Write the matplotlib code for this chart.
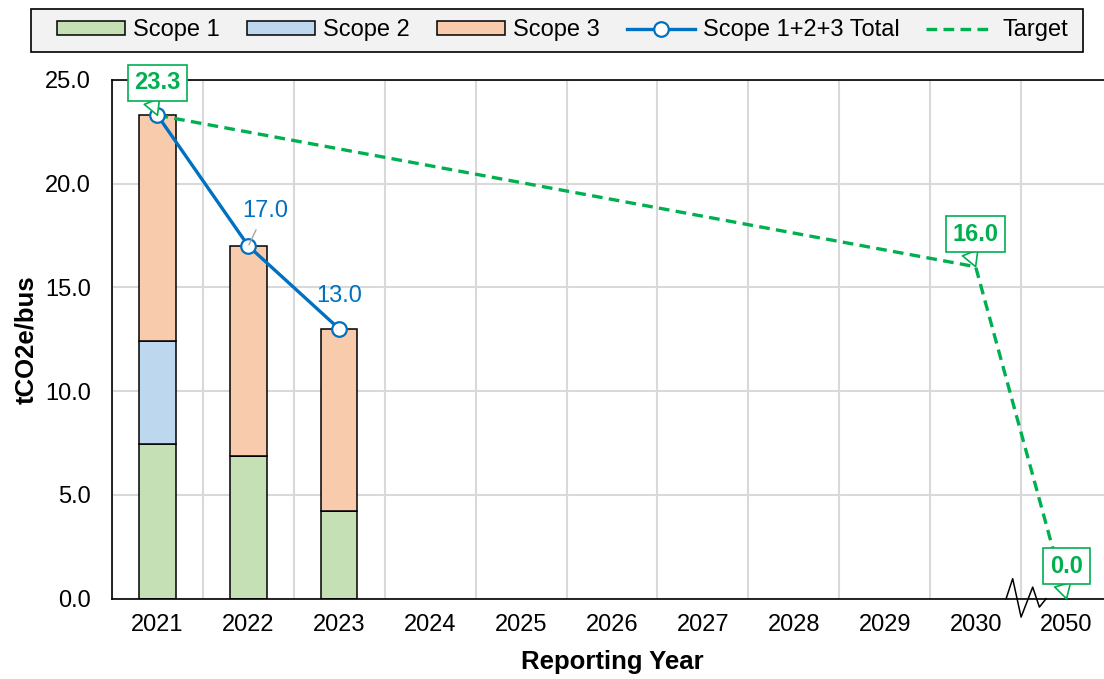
import numpy as np
import matplotlib.pyplot as plt
from matplotlib.patches import Rectangle
from matplotlib.transforms import ScaledTranslation

plt.rcParams['font.family'] = ['Liberation Sans', 'DejaVu Sans']

years = ['2021', '2022', '2023', '2024', '2025', '2026', '2027', '2028',
         '2029', '2030', '2050']
bar_years = ['2021', '2022', '2023']
scope1 = [7.45, 6.89, 4.23]
scope2 = [4.95, 0.0, 0.0]
scope3 = [10.9, 10.11, 8.77]
total = [23.3, 17.0, 13.0]
target_years = ['2021', '2030', '2050']
target = [23.3, 16.0, 0.0]

pos = {y: i for i, y in enumerate(years)}
x = np.arange(len(years))
bx = [pos[y] for y in bar_years]
tx = [pos[y] for y in target_years]

fig = plt.figure(figsize=(11.04, 6.79), dpi=100)
ax = fig.add_axes([112 / 1104, 1 - 598.7 / 679, 1000 / 1104, 518.7 / 679])

fs = 17
green, blue = '#00B050', '#0070C0'

b1 = ax.bar(bx, scope1, 0.4, color='#C5E0B4', edgecolor='black', lw=1.1,
            label='Scope 1', zorder=2)
b2 = ax.bar(bx, scope2, 0.4, bottom=scope1, color='#BDD7EE', edgecolor='black',
            lw=1.1, label='Scope 2', zorder=2)
bottom3 = np.array(scope1) + np.array(scope2)
b3 = ax.bar(bx, scope3, 0.4, bottom=bottom3, color='#F8CBAD', edgecolor='black',
            lw=1.1, label='Scope 3', zorder=2)

l_tgt, = ax.plot(tx, target, color=green, lw=2.4, ls=(0, (3.2, 1.9)),
                 label='Target', zorder=3)
l_tot, = ax.plot(bx, total, color=blue, lw=2.4, marker='o', ms=10.5, mfc='white',
                 mec=blue, mew=1.6, label='Scope 1+2+3 Total', zorder=4)

# target labels (callout boxes)
for xi, v in zip(tx, target):
    ax.annotate(f'{v:.1f}', (xi, v), xytext=(0, 23.5), textcoords='offset points',
                ha='center', va='center', fontsize=fs, fontweight='bold',
                color=green, zorder=6, annotation_clip=False,
                bbox=dict(boxstyle='square,pad=0.28', fc='white', ec=green, lw=1.2),
                arrowprops=dict(arrowstyle='wedge,tail_width=0.7', fc='white',
                                ec=green, lw=1.2, shrinkA=0, shrinkB=0,
                                relpos=(0.3, 0.1)))

# total labels
ax.annotate(f'{total[1]:.1f}', (bx[1], total[1]), xytext=(12, 25.2),
            textcoords='offset points', ha='center', va='center', fontsize=fs,
            color=blue, zorder=5,
            arrowprops=dict(arrowstyle='-', color='#a6a6a6', lw=1,
                            shrinkA=4, shrinkB=1))
ax.annotate(f'{total[2]:.1f}', (bx[2], total[2]), xytext=(0, 23.8),
            textcoords='offset points', ha='center', va='center', fontsize=fs,
            color=blue, zorder=5)

ax.set_xlim(-0.5, 10.5)
ax.set_ylim(0, 25)
ax.set_xticks(x, years)
ax.set_xticks(np.arange(-0.5, 11, 1), minor=True)
ax.set_yticks(np.arange(0, 26, 5))
ax.yaxis.set_major_formatter(lambda v, p: f'{v:.1f}')
ax.tick_params(which='both', length=0, labelsize=fs)
ax.tick_params(axis='y', pad=15)
ax.tick_params(axis='x', pad=11)
ax.grid(which='minor', axis='x', color='#D9D9D9', lw=1.5, zorder=0)
ax.grid(which='major', axis='y', color='#D9D9D9', lw=1.5, zorder=0)
ax.set_axisbelow(True)
for s in ax.spines.values():
    s.set_linewidth(1.2)
    s.set_color('black')

ax.set_ylabel('tCO2e/bus', fontsize=18.5, fontweight='bold')
ax.yaxis.set_label_coords(-0.074, 0.5)
ax.set_xlabel('Reporting Year', fontsize=18.5, fontweight='bold')
ax.xaxis.set_label_coords(0.5, -0.099)

# axis break between 2030 and 2050
brk = ScaledTranslation(9.5, 0, ax.transData)
zx = np.array([-15, -8.4, 0, 11.6, 18.3, 25]) / 100
zy = np.array([0, 20, -18.4, 11.6, -8.4, 0]) / 100
ax.plot(zx, zy, color='black', lw=1.1, transform=fig.dpi_scale_trans + brk,
        clip_on=False, zorder=5)

# legend with its own frame
fig.add_artist(Rectangle((31 / 1104, 1 - 51.7 / 679), 1052 / 1104, 42.7 / 679,
                         transform=fig.transFigure, fc='#F2F2F2', ec='black',
                         lw=1.2, zorder=1))
fig.legend(handles=[b1, b2, b3, l_tot, l_tgt], loc='center',
           bbox_to_anchor=(562.5 / 1104, 1 - 30.4 / 679), ncol=5,
           frameon=False, fontsize=fs,
           handlelength=2.88, handleheight=0.5, handletextpad=0.34,
           columnspacing=1.15, borderpad=0.2)

fig.savefig('out.png', dpi=100)
